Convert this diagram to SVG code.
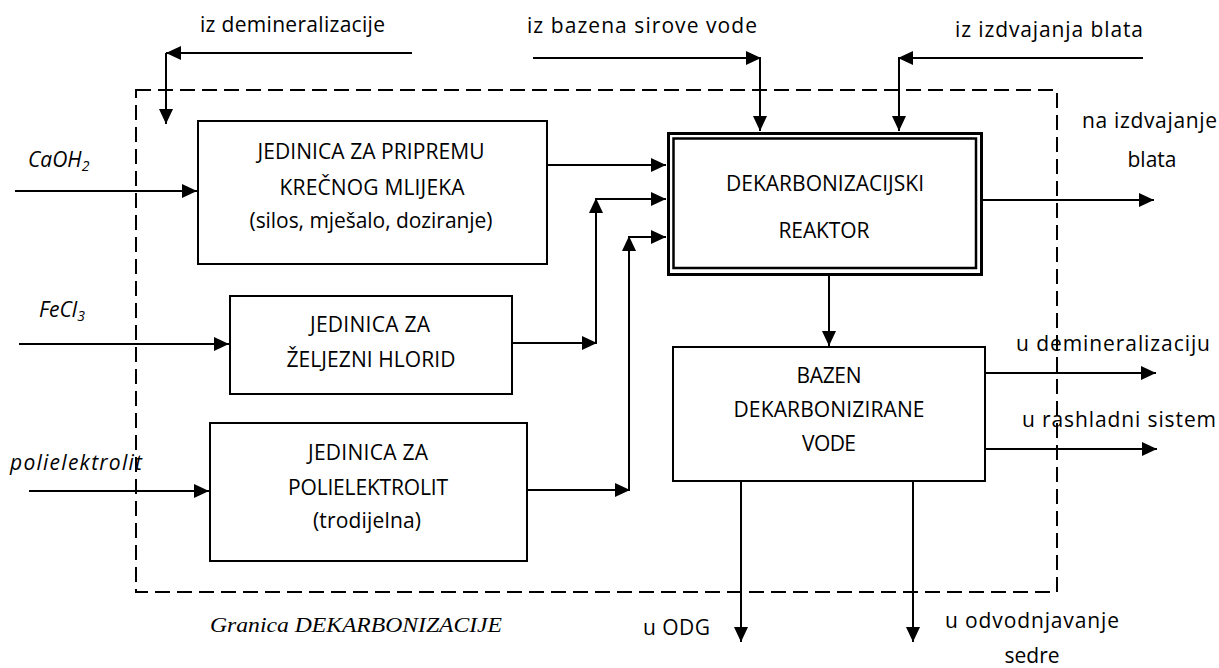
<svg xmlns="http://www.w3.org/2000/svg" width="1219" height="668" viewBox="0 0 1219 668">
  <style>
    .t { font-family: "Open Sans", "Liberation Sans", sans-serif; font-size: 21px; fill: #000; }
    .c { text-anchor: middle; }
    .it { font-style: italic; }
    .cap { font-family: "Liberation Serif", "Times New Roman", serif; font-style: italic; font-size: 22px; fill: #000; }
    .box { fill: #fff; stroke: #000; stroke-width: 2; }
    .ln { fill: none; stroke: #000; stroke-width: 2; }
    .ar { fill: none; stroke: #000; stroke-width: 2; marker-end: url(#ah); }
    .bound { fill: none; stroke: #000; stroke-width: 2; stroke-dasharray: 15 7; }
  </style>
  <defs>
    <marker id="ah" markerUnits="userSpaceOnUse" markerWidth="16" markerHeight="14" refX="15" refY="7" orient="auto">
      <path d="M0,0 L15,7 L0,14 Z" fill="#000"/>
    </marker>
  </defs>
  <rect x="0" y="0" width="1219" height="668" fill="#fff"/>

  <!-- boundary -->
  <g id="boundary">
    <rect class="bound" x="136" y="90" width="921" height="502"/>
    <text class="cap" x="210" y="632" textLength="292" lengthAdjust="spacingAndGlyphs">Granica DEKARBONIZACIJE</text>
  </g>

  <!-- connectors -->
  <g id="connectors">
    <!-- iz demineralizacije -->
    <path class="ar" d="M412,53 H166"/>
    <path class="ar" d="M166,53 V124"/>
    <!-- iz bazena sirove vode -->
    <path class="ar" d="M533,58 H761"/>
    <path class="ar" d="M760,58 V131"/>
    <!-- iz izdvajanja blata -->
    <path class="ar" d="M1143,58 H898"/>
    <path class="ar" d="M899,58 V131"/>
    <!-- inputs -->
    <path class="ar" d="M15,191 H197"/>
    <path class="ar" d="M19,344 H229"/>
    <path class="ar" d="M29,491 H209"/>
    <!-- box1 to reactor -->
    <path class="ar" d="M547,165 H666"/>
    <!-- FeCl3 unit to reactor -->
    <path class="ar" d="M513,343 H597"/>
    <path class="ar" d="M596,343 V198"/>
    <path class="ar" d="M596,199 H666"/>
    <!-- polielektrolit unit to reactor -->
    <path class="ar" d="M528,490 H630"/>
    <path class="ar" d="M629,490 V236"/>
    <path class="ar" d="M629,237 H666"/>
    <!-- reactor outputs -->
    <path class="ar" d="M983,200 H1154"/>
    <path class="ar" d="M829,276 V346"/>
    <!-- bazen outputs -->
    <path class="ar" d="M986,373 H1156"/>
    <path class="ar" d="M986,449 H1157"/>
    <path class="ar" d="M741,482 V642"/>
    <path class="ar" d="M913,482 V642"/>
  </g>

  <!-- nodes -->
  <g id="unit-krec">
    <rect class="box" x="198" y="121" width="349" height="143"/>
    <text class="t c" x="371" y="159" textLength="227">JEDINICA ZA PRIPREMU</text>
    <text class="t c" x="372" y="195" textLength="185">KREČNOG MLIJEKA</text>
    <text class="t c" x="371" y="228" textLength="243">(silos, mješalo, doziranje)</text>
  </g>

  <g id="unit-fecl3">
    <rect class="box" x="230" y="296" width="282" height="98"/>
    <text class="t c" x="370" y="332" textLength="120">JEDINICA ZA</text>
    <text class="t c" x="371" y="367" textLength="169">ŽELJEZNI HLORID</text>
  </g>

  <g id="unit-poli">
    <rect class="box" x="210" y="423" width="317" height="138"/>
    <text class="t c" x="368" y="460" textLength="120">JEDINICA ZA</text>
    <text class="t c" x="368" y="495" textLength="160">POLIELEKTROLIT</text>
    <text class="t c" x="367" y="528" textLength="108">(trodijelna)</text>
  </g>

  <g id="reactor">
    <rect x="668.5" y="133.5" width="313" height="141" fill="#fff" stroke="#000" stroke-width="3"/>
    <rect x="673.5" y="138.5" width="302.5" height="129.5" fill="none" stroke="#000" stroke-width="2.5"/>
    <text class="t c" x="825" y="191" textLength="198">DEKARBONIZACIJSKI</text>
    <text class="t c" x="824" y="238" textLength="91">REAKTOR</text>
  </g>

  <g id="bazen">
    <rect class="box" x="673" y="347" width="312" height="134"/>
    <text class="t c" x="829" y="383" textLength="65">BAZEN</text>
    <text class="t c" x="829" y="417" textLength="191">DEKARBONIZIRANE</text>
    <text class="t c" x="829" y="451" textLength="54">VODE</text>
  </g>

  <!-- labels -->
  <g id="labels">
    <text class="t" x="200" y="32" textLength="185">iz demineralizacije</text>
    <text class="t" x="527" y="33" textLength="230">iz bazena sirove vode</text>
    <text class="t" x="955" y="37" textLength="188">iz izdvajanja  blata</text>
    <text class="t" x="1082" y="128" textLength="135">na izdvajanje</text>
    <text class="t c" x="1152" y="167">blata</text>
    <text class="t it" x="28" y="167">CaOH<tspan font-size="14" dy="4">2</tspan></text>
    <text class="t it" x="39" y="317">FeCl<tspan font-size="14" dy="4">3</tspan></text>
    <text class="t it" x="10" y="470" textLength="132">polielektrolit</text>
    <text class="t" x="1016" y="351" textLength="194">u demineralizaciju</text>
    <text class="t" x="1022" y="427" textLength="194">u rashladni sistem</text>
    <text class="t" x="643" y="635" textLength="67">u ODG</text>
    <text class="t" x="945" y="628" textLength="174">u odvodnjavanje</text>
    <text class="t c" x="1032" y="663">sedre</text>
  </g>
</svg>
